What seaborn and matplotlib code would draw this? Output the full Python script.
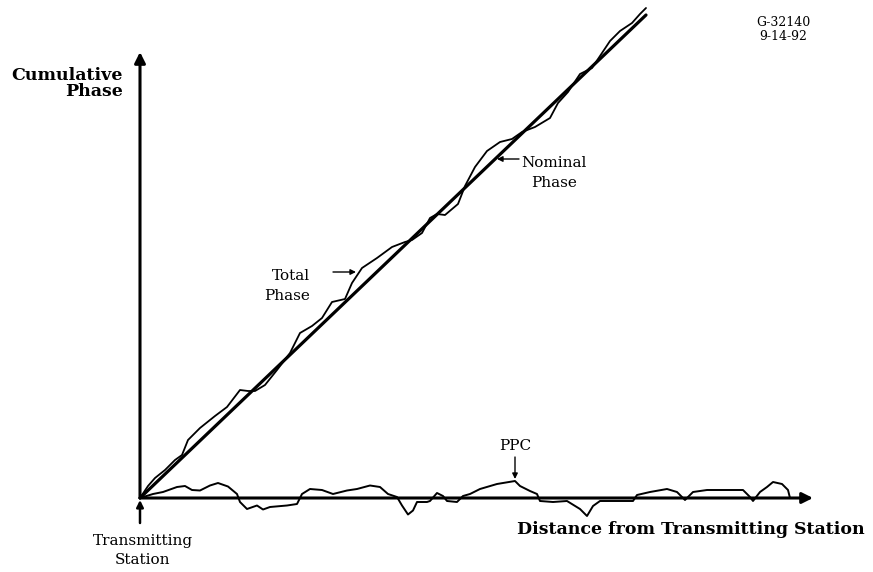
import seaborn as sns
import matplotlib.pyplot as plt
import pandas as pd

# Values (distance from station, phase), origin at the station
nominal_dist = [0, 506]
nominal_phase = [0, 483]

total_dist = [0, 8, 15, 25, 35, 42, 48, 60, 75, 87, 100, 108, 115, 125, 137, 150, 160, 172,
              182, 192, 205, 212, 222, 237, 252, 265, 272, 282, 290, 297, 305, 318, 325, 335,
              347, 360, 372, 382, 395, 410, 418, 428, 440, 452, 460, 470, 480, 492, 500, 506]
total_phase = [0, 12, 20, 28, 38, 43, 58, 70, 82, 91, 108, 107, 107, 113, 128, 145, 165, 172,
               180, 196, 199, 215, 230, 240, 251, 256, 258, 265, 280, 284, 283, 294, 312, 331,
               347, 356, 359, 366, 371, 380, 395, 406, 424, 430, 442, 457, 467, 475, 484, 490]

ppc_dist = [0, 13, 23, 37, 45, 52, 60, 70, 78, 88, 97, 100, 107, 117, 123, 130, 147, 157, 162,
            170, 182, 193, 207, 217, 230, 240, 248, 257, 262, 268, 273, 277, 287, 290, 297, 303,
            307, 317, 323, 330, 340, 357, 375, 380, 390, 397, 400, 413, 427, 440, 447, 453, 460,
            473, 493, 497, 510, 527, 537, 545, 553, 567, 580, 593, 603, 610, 613, 620, 627, 633,
            642, 648, 650]
ppc_value = [0, 4, 6, 11, 12, 8, 7.5, 12.5, 15, 11.5, 4, -4, -11, -7.5, -11.5, -9, -7.5, -6, 4,
             9, 8, 4, 7.5, 9, 12.5, 11, 4, 1, -7.5, -16.5, -12.5, -4, -4, -3, 5, 2,
             -3, -4, 2, 4, 9, 14, 17, 12, 7, 4, -3, -4, -3, -11, -18, -8, -3,
             -3, -3, 3, 6, 9, 6, -2, 6, 8, 8, 8, 8, 1, -3, 6, 11, 16,
             14, 8, 0]

nominal = pd.DataFrame({'dist': nominal_dist, 'phase': nominal_phase})
total = pd.DataFrame({'dist': total_dist, 'phase': total_phase})
ppc = pd.DataFrame({'dist': ppc_dist, 'phase': ppc_value})

sns.set_style('white')
plt.rcParams['font.family'] = ['DejaVu Serif']
plt.rcParams['text.color'] = 'black'

fig = plt.figure(figsize=(8.73, 5.72), dpi=100)
ax = fig.add_axes([0, 0, 1, 1])
ax.set_xlim(-140, 733)
ax.set_ylim(-74, 498)
ax.axis('off')

sns.lineplot(data=nominal, x='dist', y='phase', color='black', lw=2.3, ax=ax)
sns.lineplot(data=total, x='dist', y='phase', color='black', lw=1.3, sort=False,
             estimator=None, ax=ax)
sns.lineplot(data=ppc, x='dist', y='phase', color='black', lw=1.4, sort=False,
             estimator=None, ax=ax)

# axes with arrow heads
arrow = dict(arrowstyle='-|>', color='black', lw=2.2, mutation_scale=16, shrinkA=0, shrinkB=0)
ax.annotate('', xy=(673, 0), xytext=(0, 0), arrowprops=arrow)
ax.annotate('', xy=(0, 446), xytext=(0, 0), arrowprops=arrow)
ax.annotate('', xy=(0, -2), xytext=(0, -25),
            arrowprops=dict(arrowstyle='-|>', color='black', lw=1.8, mutation_scale=10,
                            shrinkA=0, shrinkB=0))

ax.text(-17, 423, 'Cumulative', ha='right', va='center', fontsize=12.5, fontweight='bold')
ax.text(-17, 407, 'Phase', ha='right', va='center', fontsize=12.5, fontweight='bold')
ax.text(377, -31, 'Distance from Transmitting Station', ha='left', va='center',
        fontsize=12.5, fontweight='bold')

ax.text(3, -43, 'Transmitting', ha='center', va='center', fontsize=11)
ax.text(3, -62, 'Station', ha='center', va='center', fontsize=11)

small = dict(arrowstyle='-|>', color='black', lw=1, mutation_scale=8, shrinkA=0, shrinkB=0)
ax.text(375, 52, 'PPC', ha='center', va='center', fontsize=11)
ax.annotate('', xy=(375, 19), xytext=(375, 41), arrowprops=small)

ax.text(414, 335, 'Nominal', ha='center', va='center', fontsize=11)
ax.text(414, 315, 'Phase', ha='center', va='center', fontsize=11)
ax.annotate('', xy=(357, 339), xytext=(379, 339), arrowprops=small)

ax.text(151, 222, 'Total', ha='center', va='center', fontsize=11)
ax.text(147, 202, 'Phase', ha='center', va='center', fontsize=11)
ax.annotate('', xy=(216, 226), xytext=(193, 226), arrowprops=small)

ax.text(643, 475, 'G-32140', ha='center', va='center', fontsize=9)
ax.text(643, 461, '9-14-92', ha='center', va='center', fontsize=9)

fig.savefig('out.png', dpi=100)
